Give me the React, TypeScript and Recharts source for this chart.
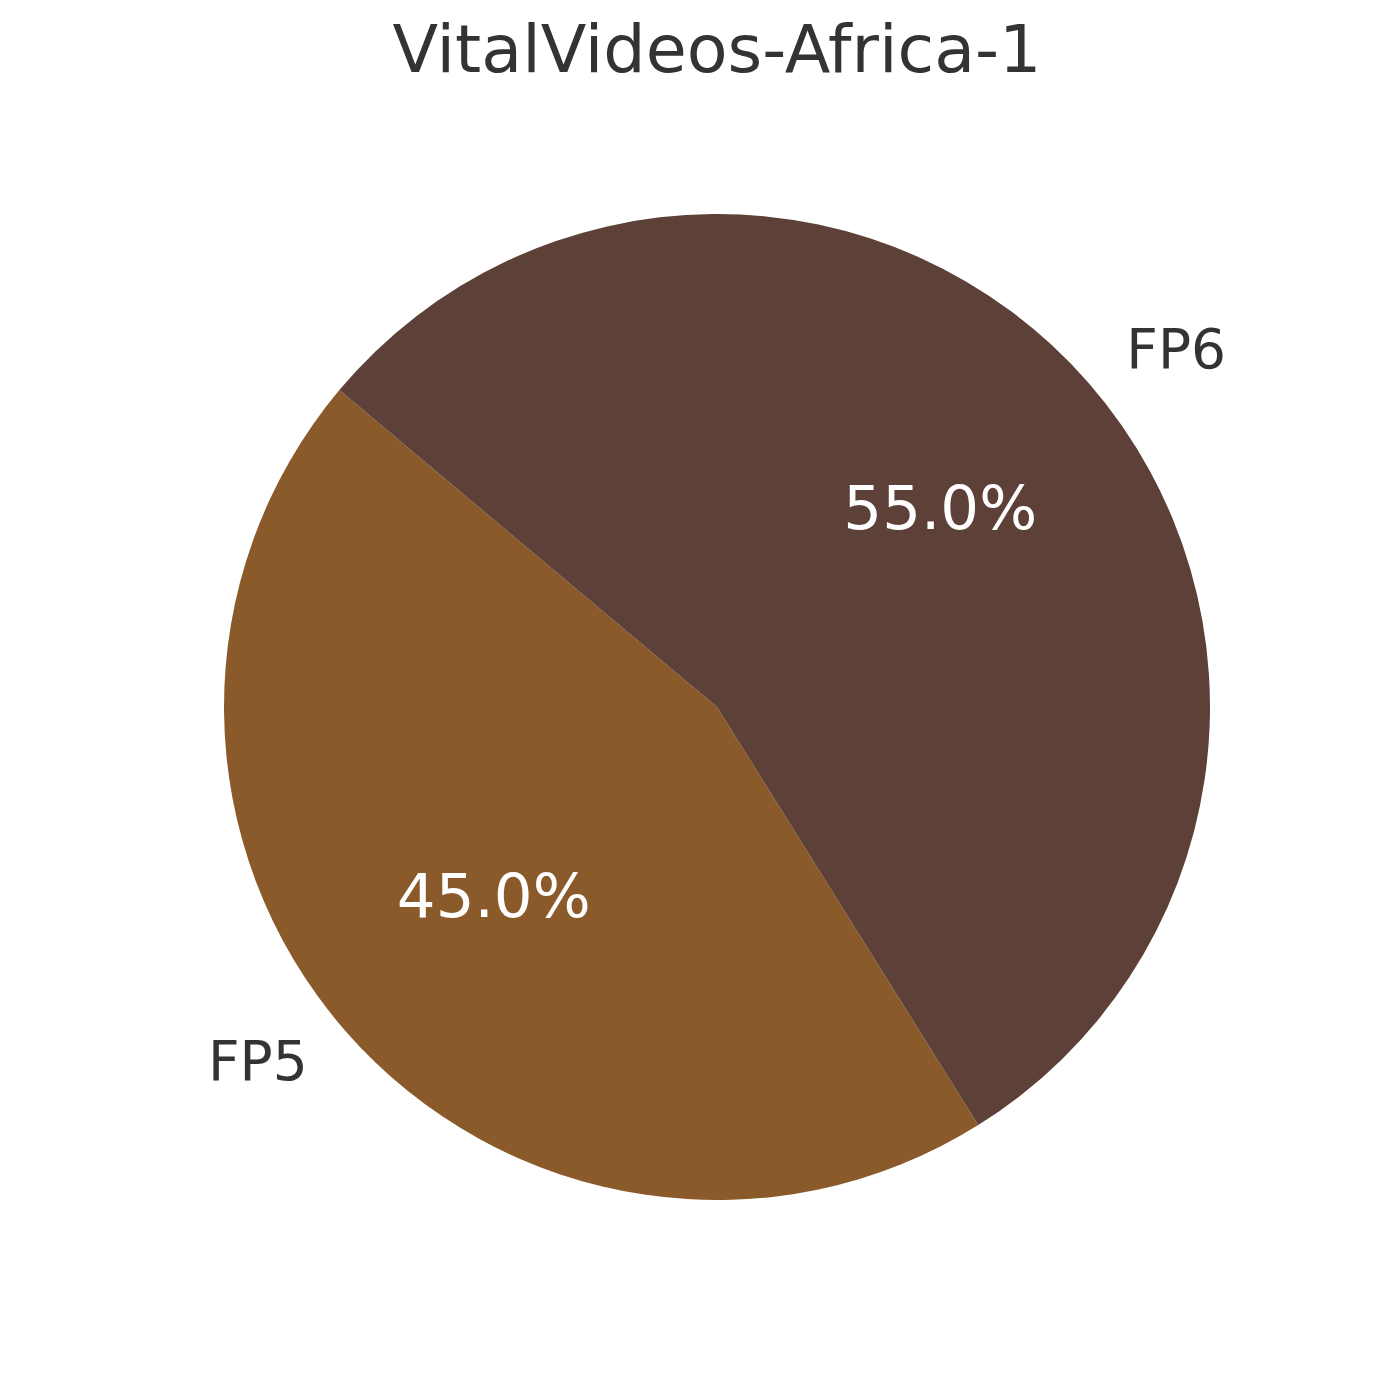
import React from "react";
import { PieChart, Pie, Cell, Customized } from "recharts";

const categories = ["FP5", "FP6"];
const values = [45, 55];
const colors = ["#8B5A2B", "#5D4037"];
const title = "VitalVideos-Africa-1";

const data = categories.map((name, i) => ({ name, value: values[i] }));

const RAD = Math.PI / 180;
const FONT = "DejaVu Sans, sans-serif";

const renderLabel = (props: any) => {
  const { cx, cy, midAngle, outerRadius, percent, name } = props;
  const cos = Math.cos(-midAngle * RAD);
  const sin = Math.sin(-midAngle * RAD);
  const lx = cx + outerRadius * 1.1 * cos;
  const ly = cy + outerRadius * 1.1 * sin;
  const px = cx + outerRadius * 0.6 * cos;
  const py = cy + outerRadius * 0.6 * sin;
  return (
    <g>
      <text
        x={lx}
        y={ly + 17}
        textAnchor={cos >= 0 ? "start" : "end"}
        fill="#333333"
        fontSize={55}
        fontFamily={FONT}
      >
        {name}
      </text>
      <text
        x={px}
        y={py + 16}
        textAnchor="middle"
        fill="#FFFFFF"
        fontSize={61}
        fontFamily={FONT}
      >
        {(percent * 100).toFixed(1) + "%"}
      </text>
    </g>
  );
};

const Title = () => (
  <text
    x={717}
    y={72}
    textAnchor="middle"
    fill="#333333"
    fontSize={66.7}
    fontFamily={FONT}
  >
    {title}
  </text>
);

export default function App() {
  return (
    <div style={{ position: "absolute", left: 0, top: 0, width: 1400, height: 1400, background: "#fff" }}>
      <PieChart width={1400} height={1400} margin={{ top: 0, right: 0, bottom: 0, left: 0 }}>
        <Pie
          data={data}
          dataKey="value"
          nameKey="name"
          cx={717}
          cy={707}
          outerRadius={493}
          startAngle={140}
          endAngle={500}
          stroke="none"
          labelLine={false}
          label={renderLabel}
          isAnimationActive={false}
        >
          {data.map((d, i) => (
            <Cell key={d.name} fill={colors[i]} />
          ))}
        </Pie>
        <Customized component={Title} />
      </PieChart>
    </div>
  );
}
